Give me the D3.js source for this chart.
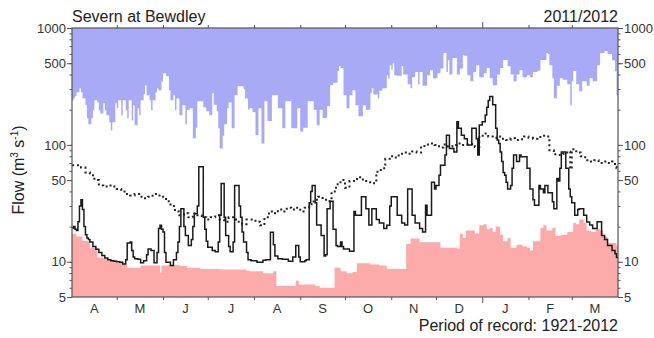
<!DOCTYPE html>
<html><head><meta charset="utf-8">
<script src="https://cdn.jsdelivr.net/npm/d3@7"></script>
<style>
html,body{margin:0;padding:0;background:#fff;}
svg{display:block;font-family:"Liberation Sans",Arial,Helvetica,sans-serif;}
</style></head>
<body><svg id="c" width="654" height="338"></svg>
<script>
// ---- data (day index from 1 Apr 2011) ----
const monthLabels = ["A","M","J","J","A","S","O","N","D","J","F","M"];
const monthStarts = [0,30,61,91,122,153,183,214,244,275,306,335,366];
const yTickValues = [5,10,50,100,500,1000];

const flowDays = [0,1,2,3,4,5,6,7,8,9,10,11,12,14,16,18,20,22,24,26,28,30,32,34,36,37,39,40,41,42,44,46,48,50,51,53,55,57,58,59,60,61,62,63,66,68,70,71,72,73,75,76,78,80,81,82,84,85,88,89,90,91,94,96,98,99,100,102,103,105,106,108,109,112,113,114,115,117,118,120,124,128,130,133,135,136,138,141,145,148,150,152,153,156,157,159,160,161,163,164,167,169,170,171,173,175,177,178,180,181,182,186,189,190,194,197,199,201,204,206,209,211,213,214,218,221,223,225,228,230,233,235,237,238,241,243,244,246,247,250,251,253,256,258,259,261,263,265,268,271,272,273,275,277,278,279,280,282,284,285,286,287,288,289,290,291,292,294,295,296,298,300,301,305,307,309,310,313,314,316,317,319,322,323,325,326,327,328,331,333,334,335,337,339,340,343,345,347,349,352,355,357,359,362,364,365];
const flowValues = [19.5,20,19,18.5,22,30,34,28,20,17,16,15.5,14.8,13.5,12.8,12,11.3,10.8,10.4,10.2,10.1,10,9.9,9.6,10.4,14.5,14.8,12.5,11,10.6,10.5,9.8,10.2,11.5,12.9,12.5,9.8,12,19.3,20.5,19,18,12,9.9,9.3,10.4,12,14.8,20,28.5,20,16.8,13.8,15.5,20,25.8,30,65,24,19,15,13.3,12.5,12.2,14.8,25,46.7,24,16.8,13.5,12.2,14.8,45,30,24,18,14.8,12,10.4,10.2,9.9,10.3,10.4,17.9,14,11.2,10.6,10.5,10.1,11,13.8,11,10,10.2,10.4,32,40,45,32,20.6,16.8,11.2,11.5,28.5,33,19,13.8,13.5,14.8,13.5,12.9,12.3,27,25,36,28.5,20.6,28.5,23,21.5,19.3,20.5,30,36,25,21.5,20.6,42,25,21.5,19.3,18,30.5,25,48,42,45,55,67,82,121,93,87,158,139,121,113,100,139,113,82,148,158,180,210,240,259,220,139,110,103,87,72,58,55,48,42,45,63,82,72,82,79,63,42,34,30.5,45,42,39,45,39,32.6,28.5,51.5,49,63,87,63,42,36,32,25,28,28.5,25,21.9,20.6,19.3,22,16.8,15.5,13.8,12.5,11.7,10.9];

const meanDays = [0,3,6,9,12,15,18,21,24,27,30,33,36,39,42,45,48,51,54,57,60,63,66,69,72,75,78,81,84,87,90,93,96,99,102,105,108,111,114,117,120,123,126,129,132,135,138,141,144,147,150,153,156,159,162,165,168,171,174,177,180,183,186,189,192,195,198,201,204,207,210,213,216,219,222,225,228,231,234,237,240,243,246,249,252,255,258,261,264,267,270,273,276,279,282,285,288,291,294,297,300,303,306,309,312,315,318,320,323,326,329,332,334,335,338,341,344,347,350,353,356,359,362,364,365];
const meanValues = [67,67,64,58,55,50,45,44,45,44,42,40,38,37,38,36,35,36,38,37,36,33,30,27,25,26,24,26,25,24,23,24,25,23,22,24,23,22,21,23,23,22,20.5,24,27,26,28,27,29,28,29,27,29,31,34,36,34,33,40,46,50,43,49,51,53,49,48,47,59,63,76,80,78,84,86,84,88,86,98,101,103,100,95,101,97,100,103,100,101,102,96,120,125,118,115,118,113,110,114,110,112,118,115,113,117,120,118,90,83,82,84,88,62,92,86,80,74,72,74,70,72,70,72,65,63];

const maxDays = [0,1,2,3,5,6,7,9,10,11,13,14,15,17,18,19,21,22,23,25,26,27,29,30,31,33,34,36,37,38,40,41,42,44,45,46,48,49,50,52,53,54,56,57,58,60,61,63,65,66,68,69,70,72,74,76,77,79,81,83,84,86,88,90,92,94,95,97,98,99,101,102,104,105,107,109,111,113,115,116,118,119,121,123,125,127,129,131,134,136,138,141,143,145,147,149,151,153,155,158,160,162,164,166,168,171,173,175,178,179,180,182,184,186,188,190,192,195,197,200,201,202,205,206,208,211,212,213,214,215,216,218,221,222,225,227,228,230,232,233,235,238,240,242,245,247,249,251,252,253,255,258,260,262,263,265,267,269,271,273,276,278,280,282,285,287,289,292,294,296,298,300,302,305,307,309,312,314,315,318,319,320,322,323,325,327,329,332,334,335,336,338,340,342,345,347,349,352,354,356,357,359,362,364,365];
const maxValues = [240,251,261,282,305,282,251,218,169,150,169,198,241,232,198,186,227,198,179,156,133,156,227,206,241,179,241,198,169,241,162,218,147,206,179,241,271,324,266,241,198,241,282,305,294,350,411,387,294,241,266,198,250,179,218,150,200,206,114,140,236,236,210,194,180,277,220,194,139,93,120,150,206,230,139,266,318,318,300,250,200,206,190,121,206,103,236,160,266,266,206,139,236,236,139,139,206,130,140,236,236,200,147,200,170,215,324,340,428,472,454,266,206,266,294,218,176,218,200,277,305,270,250,290,305,395,370,481,440,500,395,390,472,400,330,305,380,420,330,420,320,395,436,372,410,450,610,420,530,400,553,400,450,586,580,395,350,420,480,380,410,454,372,324,400,454,532,470,400,350,400,436,380,395,380,420,430,532,532,610,600,480,372,251,320,372,360,330,218,350,428,330,288,350,320,372,350,481,610,610,635,600,530,428,266];

const minDays = [0,3,7,12,17,21,25,30,34,37,41,46,57,59,60,64,72,77,86,99,117,119,128,135,137,150,152,153,163,166,175,176,180,184,188,191,200,206,211,222,224,227,233,245,247,258,260,262,264,267,270,273,276,278,280,282,284,287,289,292,294,298,302,305,307,309,314,316,318,322,324,328,332,336,338,340,343,345,348,351,354,356,359,363,365];
const minValues = [17.4,16.5,15.1,13.2,10.9,10.6,10.4,9.8,9.5,8.9,8.9,9.3,9.3,8.1,9.3,9.4,9.2,8.9,8.7,8.6,8.4,8.3,8.0,8.3,6.2,6.9,6.4,6.4,6.2,6.0,6.0,8.9,8.3,8.0,8.2,9.7,9.5,9.3,8.7,8.7,14.2,15.8,14.7,14.7,13.2,13.0,17.4,16,18.5,18.5,17.5,20.5,21,19,19.5,18,20,17,15,16,13.2,14,13.5,13.2,12.5,15,19.6,20.5,18.5,19.6,16.7,17,18,21.5,21,23,21.5,18.5,18,19,18.5,16.5,14.5,14.5,13.8];

// ---- layout ----
const L = 72, R = 618, T = 28, B = 297;
const svg = d3.select("#c");
const x = d3.scaleLinear().domain([0, 366]).range([L, R]);
const y = d3.scaleLog().domain([5, 1000]).range([B, T]);

const withEnd = (days, vals) => {
  const pts = days.map((d, i) => [d, vals[i]]);
  pts.push([366, vals[vals.length - 1]]);
  return pts;
};

svg.append("defs").append("clipPath").attr("id", "clip")
  .append("rect").attr("x", L).attr("y", T).attr("width", R - L).attr("height", B - T);
const g = svg.append("g").attr("clip-path", "url(#clip)");

// max envelope (blue, from top)
g.append("path").datum(withEnd(maxDays, maxValues))
  .attr("fill", "#a9aaf6")
  .attr("d", d3.area().curve(d3.curveStepAfter)
    .x(d => x(d[0])).y0(y(1000)).y1(d => y(d[1])));
// min envelope (pink, from bottom)
g.append("path").datum(withEnd(minDays, minValues))
  .attr("fill", "#fcaaaa")
  .attr("d", d3.area().curve(d3.curveStepAfter)
    .x(d => x(d[0])).y0(y(5)).y1(d => y(d[1])));
// mean flow (dotted)
g.append("path").datum(withEnd(meanDays, meanValues))
  .attr("fill", "none").attr("stroke", "#222").attr("stroke-width", 2)
  .attr("stroke-dasharray", "2,3")
  .attr("d", d3.line().curve(d3.curveStepAfter).x(d => x(d[0])).y(d => y(d[1])));
// daily flow
g.append("path").datum(withEnd(flowDays, flowValues))
  .attr("fill", "none").attr("stroke", "#1a1a1a").attr("stroke-width", 1.5)
  .attr("d", d3.line().curve(d3.curveStepAfter).x(d => x(d[0])).y(d => y(d[1])));

// frame
svg.append("rect").attr("x", L).attr("y", T).attr("width", R - L).attr("height", B - T)
  .attr("fill", "none").attr("stroke", "#555").attr("stroke-width", 1.2);

// y axes
const minorTicks = [];
[1, 10, 100].forEach(p => { for (let k = 1; k <= 9; k++) { const v = k * p; if (v >= 5 && v <= 1000) minorTicks.push(v); } });
minorTicks.push(1000);

function yAxes(axisFn, tx) {
  const gm = svg.append("g").attr("transform", `translate(${tx},0)`)
    .call(axisFn(y).tickValues(minorTicks).tickSize(2.5).tickFormat(""));
  gm.select(".domain").remove();
  gm.selectAll("line").attr("stroke", "#555");
  const ga = svg.append("g").attr("transform", `translate(${tx},0)`)
    .call(axisFn(y).tickValues(yTickValues).tickSize(5).tickPadding(1).tickFormat(d3.format("d")));
  ga.select(".domain").remove();
  ga.selectAll("line").attr("stroke", "#555");
  ga.selectAll("text").attr("font-size", 13).attr("fill", "#333")
    .attr("font-family", '"Liberation Sans",Arial,sans-serif');
}
yAxes(d3.axisLeft, L);
yAxes(d3.axisRight, R);

// x month ticks
const gx = svg.append("g").attr("transform", `translate(0,${B})`)
  .call(d3.axisBottom(x).tickValues(monthStarts.slice(1, -1)).tickSize(3).tickFormat(""));
gx.select(".domain").remove();
gx.selectAll("line").attr("stroke", "#555").attr("y2", d => d === 275 ? 6 : 3);
const gxt = svg.append("g").attr("transform", `translate(0,${T})`)
  .call(d3.axisTop(x).tickValues(monthStarts.slice(1, -1)).tickSize(3).tickFormat(""));
gxt.select(".domain").remove();
gxt.selectAll("line").attr("stroke", "#555").attr("y2", d => d === 275 ? -6 : -3);

svg.append("g").selectAll("text").data(monthLabels).join("text")
  .attr("x", (d, i) => x((monthStarts[i] + monthStarts[i + 1]) / 2))
  .attr("y", 313).attr("text-anchor", "middle")
  .attr("font-size", 13).attr("fill", "#333").text(d => d);

// titles
svg.append("text").attr("x", L).attr("y", 22).attr("font-size", 16).attr("fill", "#222").text("Severn at Bewdley");
svg.append("text").attr("x", R).attr("y", 22).attr("text-anchor", "end").attr("font-size", 16).attr("fill", "#222").text("2011/2012");
svg.append("text").attr("x", R).attr("y", 331).attr("text-anchor", "end").attr("font-size", 16).attr("fill", "#222").text("Period of record: 1921-2012");

const yl = svg.append("text").attr("transform", "translate(24,170) rotate(-90)")
  .attr("text-anchor", "middle").attr("font-size", 16).attr("fill", "#222");
yl.append("tspan").text("Flow (m");
yl.append("tspan").attr("font-size", 10).attr("dy", -6).text("3");
yl.append("tspan").attr("dy", 6).text(" s");
yl.append("tspan").attr("font-size", 10).attr("dy", -6).text("-1");
yl.append("tspan").attr("dy", 6).text(")");
</script></body></html>
